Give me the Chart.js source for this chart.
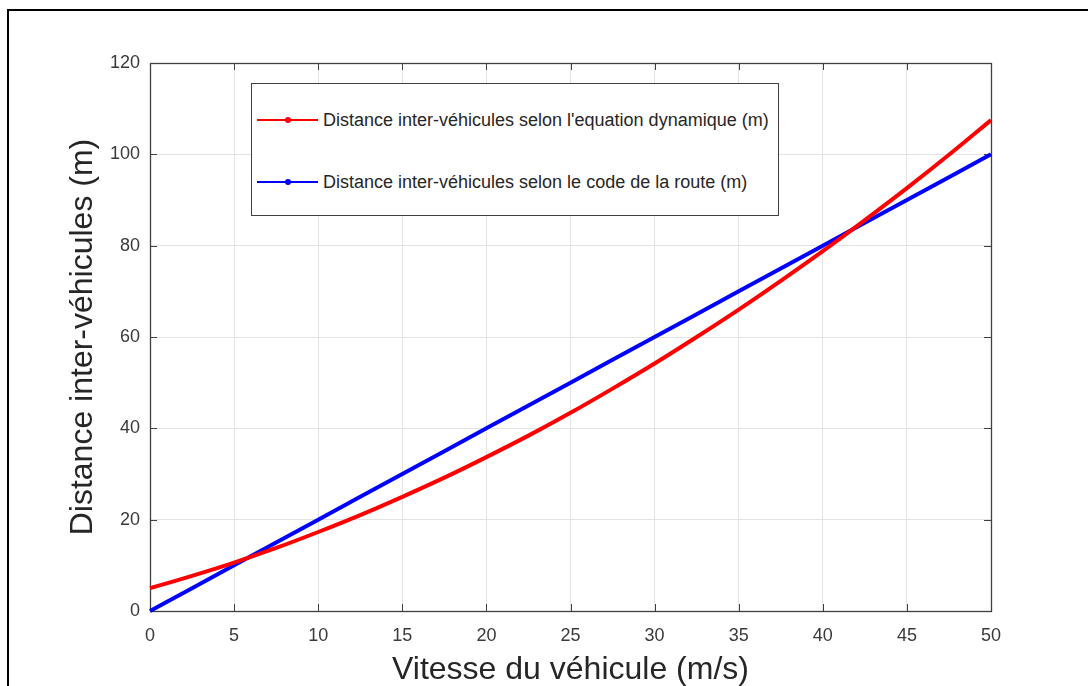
<!DOCTYPE html>
<html>
<head>
<meta charset="utf-8">
<script src="https://cdn.jsdelivr.net/npm/chart.js@4/dist/chart.umd.min.js"></script>
<style>
  html, body { margin: 0; padding: 0; background: #fff; }
  #wrap { position: relative; width: 1088px; height: 686px; overflow: hidden; background: #fff; }
  #frame { position: absolute; left: 7px; top: 9px; width: 1100px; height: 700px; border: 2px solid #000; box-sizing: border-box; pointer-events: none; }
  #c { position: absolute; left: 0; top: 0; }
  #legend { position: absolute; left: 251px; top: 83px; width: 528px; height: 133px; box-sizing: border-box;
            border: 1px solid #404040; background: #fff; font-family: "Liberation Sans", Arial, Helvetica, sans-serif;
            font-size: 18px; color: #262626; }
  .row { position: absolute; left: 0; height: 20px; width: 100%; }
  .sw { position: absolute; left: 5px; top: 9px; width: 61px; height: 2px; }
  .dot { position: absolute; left: 33px; top: 7px; width: 6px; height: 6px; border-radius: 50%; }
  .lbl { position: absolute; left: 71px; top: 0; line-height: 20px; white-space: nowrap; }
</style>
</head>
<body>
<div id="wrap">
  <canvas id="c" width="1088" height="686"></canvas>
  <div id="legend">
    <div class="row" style="top:26px"><div class="sw" style="background:#ff0000"></div><div class="dot" style="background:#ff0000"></div><div class="lbl" id="l1"></div></div>
    <div class="row" style="top:88px"><div class="sw" style="background:#0000ff"></div><div class="dot" style="background:#0000ff"></div><div class="lbl" id="l2"></div></div>
  </div>
  <div id="frame"></div>
</div>
<script>
// ---- data ----
const speeds = [0, 2.5, 5, 7.5, 10, 12.5, 15, 17.5, 20, 22.5, 25, 27.5, 30, 32.5, 35, 37.5, 40, 42.5, 45, 47.5, 50];
const distDynamic = [5.0, 7.7, 10.6, 13.8, 17.3, 21.0, 25.0, 29.2, 33.7, 38.4, 43.4, 48.7, 54.2, 60.0, 66.0, 72.3, 78.8, 85.6, 92.6, 99.9, 107.5];
const distCode = [0, 5, 10, 15, 20, 25, 30, 35, 40, 45, 50, 55, 60, 65, 70, 75, 80, 85, 90, 95, 100];
const xTicks = [0, 5, 10, 15, 20, 25, 30, 35, 40, 45, 50];
const yTicks = [0, 20, 40, 60, 80, 100, 120];
const seriesNames = [
  "Distance inter-véhicules selon l'equation dynamique (m)",
  "Distance inter-véhicules selon le code de la route (m)"
];
const xTitle = "Vitesse du véhicule (m/s)";
const yTitle = "Distance inter-véhicules (m)";

document.getElementById('l1').textContent = seriesNames[0];
document.getElementById('l2').textContent = seriesNames[1];

const FONT = '"Liberation Sans", Arial, Helvetica, sans-serif';
const AXIS = '#404040';

const boxTicks = {
  id: 'boxTicks',
  beforeDatasetsDraw(chart) {
    const ctx = chart.ctx, a = chart.chartArea;
    const xs = chart.scales.x, ys = chart.scales.y;
    const L = 7;
    ctx.save();
    ctx.strokeStyle = AXIS;
    ctx.lineWidth = 1;
    ctx.beginPath();
    xTicks.forEach(v => {
      const px = Math.round(xs.getPixelForValue(v)) + 0.5;
      ctx.moveTo(px, a.bottom); ctx.lineTo(px, a.bottom - L);
      ctx.moveTo(px, a.top); ctx.lineTo(px, a.top + L);
    });
    yTicks.forEach(v => {
      const py = Math.round(ys.getPixelForValue(v)) + 0.5;
      ctx.moveTo(a.left, py); ctx.lineTo(a.left + L, py);
      ctx.moveTo(a.right, py); ctx.lineTo(a.right - L, py);
    });
    ctx.stroke();
    ctx.lineWidth = 1.3;
    ctx.strokeRect(Math.round(a.left) + 0.5, Math.round(a.top) + 0.5, Math.round(a.right - a.left), Math.round(a.bottom - a.top));
    ctx.restore();
  }
};

new Chart(document.getElementById('c'), {
  type: 'line',
  data: {
    datasets: [
      { label: seriesNames[0], data: speeds.map((s, i) => ({ x: s, y: distDynamic[i] })),
        borderColor: '#ff0000', backgroundColor: '#ff0000', borderWidth: 4, pointRadius: 0, tension: 0.3, clip: false },
      { label: seriesNames[1], data: speeds.map((s, i) => ({ x: s, y: distCode[i] })),
        borderColor: '#0000ff', backgroundColor: '#0000ff', borderWidth: 4, pointRadius: 0, tension: 0, clip: false }
    ]
  },
  options: {
    responsive: false,
    animation: false,
    layout: { padding: { left: 0, top: 63, right: 97, bottom: 0 } },
    plugins: { legend: { display: false }, tooltip: { enabled: false } },
    scales: {
      x: {
        type: 'linear', min: 0, max: 50,
        afterFit(s) { s.height = 75; },
        afterBuildTicks(s) { s.ticks = xTicks.map(v => ({ value: v })); },
        border: { display: false },
        grid: { color: '#e3e3e3', lineWidth: 1, drawTicks: false },
        ticks: { color: '#3a3a3a', font: { family: FONT, size: 18 }, padding: 14, maxRotation: 0 },
        title: { display: true, text: xTitle, color: '#262626', font: { family: FONT, size: 32, lineHeight: 1.0 }, padding: { top: 0, bottom: 0 } }
      },
      y: {
        type: 'linear', min: 0, max: 120,
        afterFit(s) { s.width = 150; },
        afterBuildTicks(s) { s.ticks = yTicks.map(v => ({ value: v })); },
        border: { display: false },
        grid: { color: '#e3e3e3', lineWidth: 1, drawTicks: false },
        ticks: { color: '#3a3a3a', font: { family: FONT, size: 18 }, padding: 10 },
        title: { display: true, text: yTitle, color: '#262626', font: { family: FONT, size: 32, lineHeight: 1.2 }, padding: { top: 64, bottom: 0 } }
      }
    }
  },
  plugins: [boxTicks]
});
</script>
</body>
</html>
